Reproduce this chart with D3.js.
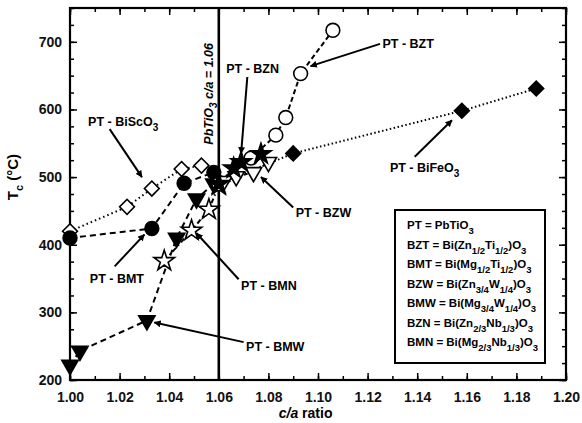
<!DOCTYPE html>
<html>
<head>
<meta charset="utf-8">
<script src="https://cdn.jsdelivr.net/npm/d3@7"></script>
<style>
  body { margin: 0; background: #fff; }
  text { font-family: "Liberation Sans", Arial, sans-serif; font-weight: bold; }
</style>
</head>
<body>
<script>
// data: [c/a, Tc]
var bisco3 = [[1.000, 420], [1.023, 456], [1.033, 483], [1.045, 512], [1.053, 517]];
var bmt    = [[1.000, 410], [1.033, 424], [1.046, 491], [1.058, 507], [1.060, 492]];
var bmw    = [[1.000, 222], [1.004, 243], [1.031, 288], [1.043, 410], [1.051, 468], [1.058, 490]];
var bmn    = [[1.038, 376], [1.049, 421], [1.056, 452], [1.060, 488]];
var bzn    = [[1.060, 490], [1.066, 513], [1.069, 522], [1.077, 534]];
var bzw    = [[1.062, 494], [1.067, 501], [1.074, 507], [1.080, 522]];
var bzt    = [[1.060, 490], [1.073, 528], [1.083, 562], [1.087, 588], [1.093, 653], [1.106, 717]];
var bifeo3 = [[1.060, 490], [1.090, 535], [1.158, 598], [1.188, 631]];

var xTicks = [1.00, 1.02, 1.04, 1.06, 1.08, 1.10, 1.12, 1.14, 1.16, 1.18, 1.20];
var yTicks = [200, 300, 400, 500, 600, 700];
var ptRatio = 1.06;

var margin = {top: 8, right: 16, bottom: 43, left: 70},
    width = 582 - margin.left - margin.right,
    height = 423 - margin.top - margin.bottom;

var x = d3.scaleLinear().domain([1.0, 1.2]).range([0, width]);
var y = d3.scaleLinear().domain([200, 750]).range([height, 0]);

var svg = d3.select("body").append("svg")
    .attr("width", 582)
    .attr("height", 423)
  .append("g")
    .attr("transform", "translate(" + margin.left + "," + margin.top + ")");

svg.append("defs").append("marker")
    .attr("id", "arr")
    .attr("viewBox", "0 0 10 10")
    .attr("refX", 9).attr("refY", 5)
    .attr("markerWidth", 7).attr("markerHeight", 7)
    .attr("markerUnits", "userSpaceOnUse")
    .attr("orient", "auto")
  .append("path").attr("d", "M0,0L10,5L0,10z").attr("fill", "#000");

// axes, ticks inward on all four sides
var xMinor = d3.range(1.0, 1.2001, 0.01);
var yMinor = d3.range(200, 751, 25);

function styleAxis(g) {
  g.select(".domain").remove();
  g.selectAll("line").attr("stroke", "#000").attr("stroke-width", 1.5);
  g.selectAll("text").attr("font-size", 14).attr("fill", "#111");
}

svg.append("g").attr("transform", "translate(0," + height + ")")
    .call(d3.axisBottom(x).tickValues(xMinor).tickSize(-4).tickFormat("")).call(styleAxis);
svg.append("g").attr("transform", "translate(0," + height + ")")
    .call(d3.axisBottom(x).tickValues(xTicks).tickSizeInner(-7).tickPadding(12).tickFormat(d3.format(".2f")))
    .call(styleAxis);
svg.append("g")
    .call(d3.axisTop(x).tickValues(xMinor).tickSize(-4).tickFormat("")).call(styleAxis);
svg.append("g")
    .call(d3.axisTop(x).tickValues(xTicks).tickSize(-7).tickFormat("")).call(styleAxis);
svg.append("g")
    .call(d3.axisLeft(y).tickValues(yMinor).tickSize(-4).tickFormat("")).call(styleAxis);
svg.append("g")
    .call(d3.axisLeft(y).tickValues(yTicks).tickSizeInner(-7).tickPadding(8).tickFormat(d3.format("d")))
    .call(styleAxis);
svg.append("g").attr("transform", "translate(" + width + ",0)")
    .call(d3.axisRight(y).tickValues(yMinor).tickSize(-4).tickFormat("")).call(styleAxis);
svg.append("g").attr("transform", "translate(" + width + ",0)")
    .call(d3.axisRight(y).tickValues(yTicks).tickSize(-7).tickFormat("")).call(styleAxis);

svg.append("rect")
    .attr("width", width).attr("height", height)
    .attr("fill", "none").attr("stroke", "#000").attr("stroke-width", 2.2);

// PbTiO3 c/a line
svg.append("line")
    .attr("x1", x(ptRatio)).attr("x2", x(ptRatio))
    .attr("y1", 0).attr("y2", height)
    .attr("stroke", "#000").attr("stroke-width", 2.6);

var line = d3.line().x(function(d) { return x(d[0]); }).y(function(d) { return y(d[1]); });

var series = [
  {data: bisco3, dash: "1.5,3",   shape: "diamond", fill: "#fff"},
  {data: bifeo3, dash: "1.5,2.5", shape: "diamond", fill: "#000"},
  {data: bmt,    dash: "6,4",     shape: "circle",  fill: "#000"},
  {data: bmw,    dash: "6,4",     shape: "tri",     fill: "#000"},
  {data: bmn,    dash: "5,3,1.5,3", shape: "star",  fill: "#fff"},
  {data: bzt,    dash: "5,3",     shape: "circle",  fill: "#fff"},
  {data: bzw,    dash: "4,3",     shape: "tri",     fill: "#fff"},
  {data: bzn,    dash: "5,3",     shape: "star",    fill: "#000"}
];

series.forEach(function(s) {
  svg.append("path")
      .attr("d", line(s.data))
      .attr("fill", "none")
      .attr("stroke", "#000")
      .attr("stroke-width", 2)
      .attr("stroke-dasharray", s.dash);
});

var symbols = {
  diamond: d3.symbol().type(d3.symbolSquare).size(110),
  circle: d3.symbol().type(d3.symbolCircle).size(150),
  tri: d3.symbol().type(d3.symbolTriangle).size(115),
  star: d3.symbol().type(d3.symbolStar).size(130)
};
var rot = {diamond: 45, circle: 0, tri: 180, star: 0};

series.forEach(function(s) {
  svg.selectAll(null)
      .data(s.data)
      .enter().append("path")
      .attr("d", symbols[s.shape])
      .attr("transform", function(d) {
        return "translate(" + x(d[0]) + "," + y(d[1]) + ") rotate(" + rot[s.shape] + ")";
      })
      .attr("fill", s.fill)
      .attr("stroke", "#000")
      .attr("stroke-width", 1.6);
});

// annotations: label anchor in data units, arrow from/to in data units
var notes = [
  {t: "PT - BiScO", sub: "3", at: [1.0073, 582], from: [1.0160, 571], to: [1.0290, 500]},
  {t: "PT - BZN", sub: "", at: [1.0630, 660], from: [1.0715, 648], to: [1.0690, 535]},
  {t: "PT - BZT", sub: "", at: [1.1260, 697], from: [1.1250, 697], to: [1.0970, 664]},
  {t: "PT - BiFeO", sub: "3", at: [1.1290, 514], from: [1.1390, 530], to: [1.1540, 584]},
  {t: "PT - BZW", sub: "", at: [1.0910, 447], from: [1.0900, 455], to: [1.0770, 500]},
  {t: "PT - BMT", sub: "", at: [1.0080, 350], from: [1.0180, 368], to: [1.0300, 415]},
  {t: "PT - BMN", sub: "", at: [1.0690, 339], from: [1.0680, 349], to: [1.0510, 417]},
  {t: "PT - BMW", sub: "", at: [1.0710, 250], from: [1.0700, 256], to: [1.0340, 285]}
];

notes.forEach(function(n) {
  svg.append("line")
      .attr("x1", x(n.from[0])).attr("y1", y(n.from[1]))
      .attr("x2", x(n.to[0])).attr("y2", y(n.to[1]))
      .attr("stroke", "#000").attr("stroke-width", 2)
      .attr("marker-end", "url(#arr)");
  var t = svg.append("text")
      .attr("x", x(n.at[0])).attr("y", y(n.at[1]))
      .attr("font-size", 12.5)
      .attr("dy", "0.35em")
      .text(n.t);
  if (n.sub) t.append("tspan").attr("dy", 5).attr("font-size", 10).text(n.sub);
});

// rotated PbTiO3 label
var vt = svg.append("text")
    .attr("transform", "translate(" + (x(ptRatio) - 6) + "," + y(548) + ") rotate(-90)")
    .attr("font-size", 12.5)
    .attr("font-style", "italic");
vt.append("tspan").text("PbTiO");
vt.append("tspan").attr("dy", 4).attr("font-size", 10).text("3");
vt.append("tspan").attr("dy", -4).text("  c/a = 1.06");

// axis titles
var yl = svg.append("text")
    .attr("transform", "translate(" + (-52) + "," + y(500) + ") rotate(-90)")
    .attr("text-anchor", "middle")
    .attr("font-size", 15);
yl.append("tspan").text("T");
yl.append("tspan").attr("dy", 5).attr("font-size", 11).text("c");
yl.append("tspan").attr("dy", -5).text(" (°C)");

var xl = svg.append("text")
    .attr("x", x(1.095)).attr("y", height + 38)
    .attr("text-anchor", "middle")
    .attr("font-size", 14);
xl.append("tspan").attr("font-style", "italic").text("c/a");
xl.append("tspan").text(" ratio");

// composition legend
var legendRows = [
  [["PT = PbTiO", ""], ["3", "s"]],
  [["BZT = Bi(Zn", ""], ["1/2", "s"], ["Ti", ""], ["1/2", "s"], [")O", ""], ["3", "s"]],
  [["BMT = Bi(Mg", ""], ["1/2", "s"], ["Ti", ""], ["1/2", "s"], [")O", ""], ["3", "s"]],
  [["BZW = Bi(Zn", ""], ["3/4", "s"], ["W", ""], ["1/4", "s"], [")O", ""], ["3", "s"]],
  [["BMW = Bi(Mg", ""], ["3/4", "s"], ["W", ""], ["1/4", "s"], [")O", ""], ["3", "s"]],
  [["BZN = Bi(Zn", ""], ["2/3", "s"], ["Nb", ""], ["1/3", "s"], [")O", ""], ["3", "s"]],
  [["BMN = Bi(Mg", ""], ["2/3", "s"], ["Nb", ""], ["1/3", "s"], [")O", ""], ["3", "s"]]
];

var lg = svg.append("g").attr("transform", "translate(" + (395 - margin.left) + "," + (210 - margin.top) + ")");
lg.append("rect")
    .attr("width", 150).attr("height", 153)
    .attr("fill", "#fff").attr("stroke", "#000").attr("stroke-width", 2);

legendRows.forEach(function(row, i) {
  var t = lg.append("text")
      .attr("x", 12).attr("y", 19 + i * 19.5)
      .attr("font-size", 11.5);
  var down = false;
  row.forEach(function(p) {
    var ts = t.append("tspan").text(p[0]);
    if (p[1] === "s") {
      ts.attr("font-size", 9.5).attr("dy", down ? 0 : 5);
      down = true;
    } else if (down) {
      ts.attr("dy", -5);
      down = false;
    }
  });
});
</script>
</body>
</html>
